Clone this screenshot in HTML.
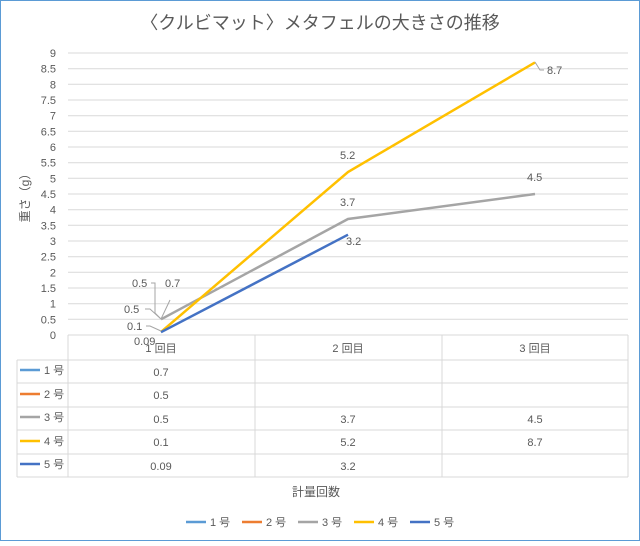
<!DOCTYPE html>
<html><head><meta charset="utf-8"><style>
body{margin:0;background:#fff}
svg text{font-family:"Liberation Sans","Noto Sans CJK JP",sans-serif;fill:#595959}
</style></head><body>
<svg width="640" height="541" viewBox="0 0 640 541" xmlns="http://www.w3.org/2000/svg">
<rect x="0.5" y="0.5" width="639" height="540" fill="#fff" stroke="#5b9bd5"/>
<text x="320" y="29" font-size="18" text-anchor="middle">〈クルビマット〉メタフェルの大きさの推移</text>
<g stroke="#d9d9d9" stroke-width="1">
<line x1="68" x2="628" y1="53" y2="53"/><line x1="68" x2="628" y1="68.7" y2="68.7"/><line x1="68" x2="628" y1="84.3" y2="84.3"/><line x1="68" x2="628" y1="100" y2="100"/><line x1="68" x2="628" y1="115.7" y2="115.7"/><line x1="68" x2="628" y1="131.3" y2="131.3"/><line x1="68" x2="628" y1="147" y2="147"/><line x1="68" x2="628" y1="162.7" y2="162.7"/><line x1="68" x2="628" y1="178.3" y2="178.3"/><line x1="68" x2="628" y1="194" y2="194"/><line x1="68" x2="628" y1="209.7" y2="209.7"/><line x1="68" x2="628" y1="225.3" y2="225.3"/><line x1="68" x2="628" y1="241" y2="241"/><line x1="68" x2="628" y1="256.7" y2="256.7"/><line x1="68" x2="628" y1="272.3" y2="272.3"/><line x1="68" x2="628" y1="288" y2="288"/><line x1="68" x2="628" y1="303.7" y2="303.7"/><line x1="68" x2="628" y1="319.3" y2="319.3"/>
<line x1="68" x2="628" y1="335" y2="335"/>
<line x1="68" x2="68" y1="335" y2="477"/><line x1="255" x2="255" y1="335" y2="477"/><line x1="442" x2="442" y1="335" y2="477"/><line x1="628" x2="628" y1="335" y2="477"/>
<line x1="17" x2="17" y1="360" y2="477"/>
<line x1="17" x2="628" y1="360" y2="360"/><line x1="17" x2="628" y1="383" y2="383"/><line x1="17" x2="628" y1="407" y2="407"/><line x1="17" x2="628" y1="430" y2="430"/><line x1="17" x2="628" y1="454" y2="454"/><line x1="17" x2="628" y1="477" y2="477"/>
</g>
<g font-size="11" text-anchor="end">
<text x="56" y="57">9</text><text x="56" y="72.7">8.5</text><text x="56" y="88.3">8</text><text x="56" y="104">7.5</text><text x="56" y="119.7">7</text><text x="56" y="135.3">6.5</text><text x="56" y="151">6</text><text x="56" y="166.7">5.5</text><text x="56" y="182.3">5</text><text x="56" y="198">4.5</text><text x="56" y="213.7">4</text><text x="56" y="229.3">3.5</text><text x="56" y="245">3</text><text x="56" y="260.7">2.5</text><text x="56" y="276.3">2</text><text x="56" y="292">1.5</text><text x="56" y="307.7">1</text><text x="56" y="323.3">0.5</text><text x="56" y="339">0</text>
</g>
<text transform="translate(29,195) rotate(-90)" font-size="12" text-anchor="middle">重さ（g）</text>
<g font-size="11" text-anchor="middle">
<text x="161" y="352">1 回目</text><text x="348" y="352">2 回目</text><text x="535" y="352">3 回目</text>
<text x="161" y="376">0.7</text><text x="161" y="399">0.5</text><text x="161" y="423">0.5</text><text x="348" y="423">3.7</text><text x="535" y="423">4.5</text>
<text x="161" y="446">0.1</text><text x="348" y="446">5.2</text><text x="535" y="446">8.7</text>
<text x="161" y="470">0.09</text><text x="348" y="470">3.2</text>
</g>
<g font-size="11">
<line x1="20" x2="40" y1="370" y2="370" stroke="#5b9bd5" stroke-width="2.5"/><text x="44" y="374">1 号</text>
<line x1="20" x2="40" y1="394" y2="394" stroke="#ed7d31" stroke-width="2.5"/><text x="44" y="398">2 号</text>
<line x1="20" x2="40" y1="417" y2="417" stroke="#a5a5a5" stroke-width="2.5"/><text x="44" y="421">3 号</text>
<line x1="20" x2="40" y1="441" y2="441" stroke="#ffc000" stroke-width="2.5"/><text x="44" y="445">4 号</text>
<line x1="20" x2="40" y1="464" y2="464" stroke="#4472c4" stroke-width="2.5"/><text x="44" y="468">5 号</text>
</g>
<polyline points="161,319.3 348,219 535,194" fill="none" stroke="#a5a5a5" stroke-width="2.5"/>
<polyline points="161,331.9 348,172 535,62.4" fill="none" stroke="#ffc000" stroke-width="2.5"/>
<polyline points="161,332.2 348,234.7" fill="none" stroke="#4472c4" stroke-width="2.5"/>
<g stroke="#a5a5a5" fill="none" stroke-width="1">
<polyline points="161,319 155,313 155,283 151,283"/>
<polyline points="161,319 170,300"/>
<polyline points="161,319 150,309 145,309"/>
<polyline points="161,331 150,326 146,326"/>
<polyline points="535,62 540,70 544,70"/>
</g>
<g font-size="11">
<text x="132" y="287">0.5</text><text x="165" y="287">0.7</text>
<text x="124" y="313">0.5</text><text x="127" y="330">0.1</text><text x="134" y="345">0.09</text>
<text x="340" y="159">5.2</text><text x="340" y="206">3.7</text><text x="346" y="245">3.2</text>
<text x="527" y="181">4.5</text><text x="547" y="74">8.7</text>
</g>
<text x="316" y="496" font-size="12" text-anchor="middle">計量回数</text>
<g font-size="11">
<line x1="186" x2="206" y1="522" y2="522" stroke="#5b9bd5" stroke-width="2.5"/><text x="210" y="526">1 号</text>
<line x1="242" x2="262" y1="522" y2="522" stroke="#ed7d31" stroke-width="2.5"/><text x="266" y="526">2 号</text>
<line x1="298" x2="318" y1="522" y2="522" stroke="#a5a5a5" stroke-width="2.5"/><text x="322" y="526">3 号</text>
<line x1="354" x2="374" y1="522" y2="522" stroke="#ffc000" stroke-width="2.5"/><text x="378" y="526">4 号</text>
<line x1="410" x2="430" y1="522" y2="522" stroke="#4472c4" stroke-width="2.5"/><text x="434" y="526">5 号</text>
</g>
</svg>
</body></html>
